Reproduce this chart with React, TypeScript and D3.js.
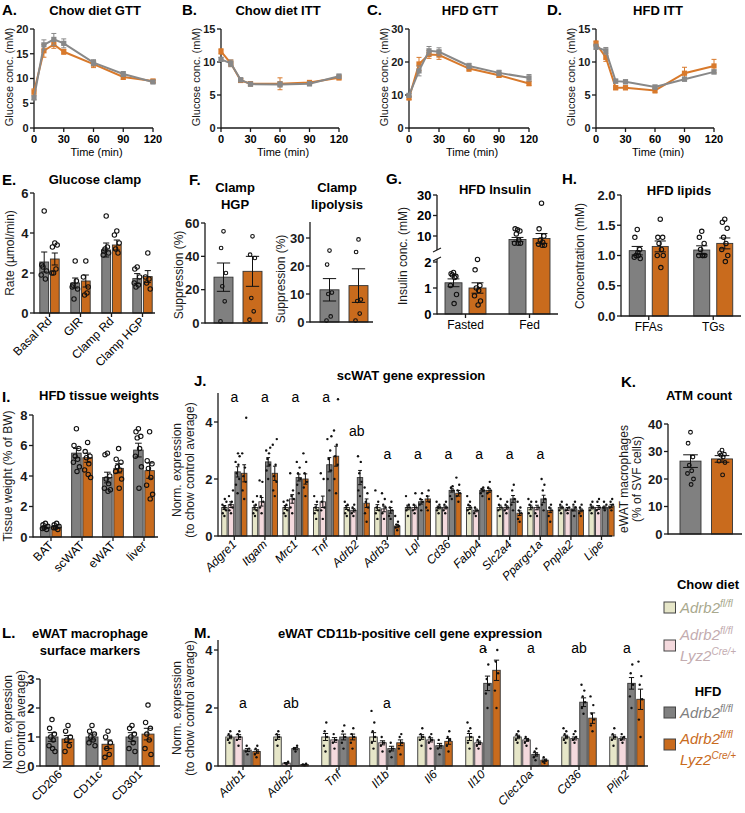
import React from 'react';
import * as d3 from 'd3';

const F = "'Liberation Sans', Arial, Helvetica, sans-serif";
const C_GRAY = '#808080';
const C_ORANGE = '#c96b1d';
const C_CHOW = '#e6e6c8';
const C_CHOWKO = '#f4d9dd';
const C_LGRAY = '#888888';
const C_LORANGE = '#d8792b';
const INK = '#1a1a1a';

// ---------- A-D time courses ----------
const times = [0, 10, 20, 30, 60, 90, 120];
const timeTicks = [0, 30, 60, 90, 120];
const aGray = [6.1, 16.8, 17.9, 17.1, 13.2, 10.9, 9.3];
const aGrayErr = [0.4, 1.0, 1.2, 0.9, 0.6, 0.5, 0.3];
const aOrange = [7.3, 15.6, 16.9, 15.4, 12.9, 10.3, 9.5];
const aOrangeErr = [0.6, 1.3, 0.8, 0.5, 0.7, 0.5, 0.3];
const bGray = [10.4, 9.8, 7.3, 6.65, 6.6, 6.7, 7.85];
const bGrayErr = [0.3, 0.5, 0.3, 0.3, 0.4, 0.3, 0.3];
const bOrange = [11.6, 9.8, 7.2, 6.7, 6.7, 6.9, 7.6];
const bOrangeErr = [0.4, 0.5, 0.3, 0.3, 0.9, 0.3, 0.3];
const cGray = [9.9, 17.3, 23.4, 23.1, 18.8, 16.7, 15.2];
const cGrayErr = [0.5, 1.5, 1.3, 1.2, 0.8, 0.8, 1.0];
const cOrange = [9.1, 19.4, 22.3, 22.1, 18.0, 16.0, 13.5];
const cOrangeErr = [0.5, 2.0, 1.2, 1.3, 0.8, 0.7, 0.7];
const dGray = [12.3, 11.7, 7.1, 7.0, 6.2, 7.4, 8.5];
const dGrayErr = [0.4, 0.5, 0.3, 0.3, 0.3, 0.3, 0.3];
const dOrange = [12.8, 10.7, 6.1, 6.1, 5.7, 8.3, 9.4];
const dOrangeErr = [0.4, 0.6, 0.3, 0.3, 0.4, 0.9, 1.0];

// ---------- E glucose clamp ----------
const eCats = ['Basal Rd', 'GIR', 'Clamp Rd', 'Clamp HGP'];
const eGray = [2.55, 1.5, 3.15, 1.72];
const eGrayErr = [0.5, 0.25, 0.35, 0.25];
const eOrange = [2.7, 1.6, 3.4, 1.82];
const eOrangeErr = [0.3, 0.3, 0.25, 0.3];
const eGrayDots = [[5.1, 2.4, 2.1, 2.3, 1.7, 1.9], [2.6, 1.4, 1.2, 0.7, 1.6, 1.3], [4.85, 3.1, 3.0, 3.2, 3.3, 2.9], [2.3, 2.2, 1.8, 1.3, 1.4, 1.5]];
const eOrangeDots = [[3.5, 3.3, 3.4, 2.0, 2.2, 2.0], [2.6, 1.8, 1.3, 0.9, 1.0], [4.1, 3.9, 3.5, 3.2, 3.0], [3.0, 1.8, 1.2, 1.5, 1.7]];

// ---------- F suppression ----------
const fHgp = [27.5, 31];
const fHgpErr = [8.5, 9];
const fHgpDots = [[55, 45, 30, 22, 13, 1], [52, 41, 39, 15, 7, 2]];
const fLip = [11.5, 13];
const fLipErr = [4, 6];
const fLipDots = [[25.5, 20.5, 10.5, 10, 2, 0.5], [29.5, 25, 8, 7.5, 3, 0.5]];

// ---------- G insulin ----------
const gCats = ['Fasted', 'Fed'];
const gGray = [1.2, 8.3];
const gGrayErr = [0.15, 1.0];
const gOrange = [1.0, 8.8];
const gOrangeErr = [0.2, 2.4];
const gGrayDots = [[1.6, 1.55, 1.45, 1.5, 1.4, 1.1, 0.75, 0.4], [13, 13.5, 12.5, 11, 8, 6.5, 6.5, 6.5]];
const gOrangeDots = [[2.1, 1.7, 1.1, 1.0, 0.9, 0.7, 0.5, 0.35], [26, 13.5, 10, 8, 7, 6, 5.5, 5.5]];

// ---------- H lipids ----------
const hCats = ['FFAs', 'TGs'];
const hGray = [1.08, 1.09];
const hGrayErr = [0.07, 0.07];
const hOrange = [1.15, 1.2];
const hOrangeErr = [0.09, 0.09];
const hGrayDots = [[1.43, 1.3, 1.1, 1.0, 1.0, 0.97, 0.95, 1.05], [1.4, 1.3, 1.2, 1.1, 1.0, 1.0, 1.0, 1.0]];
const hOrangeDots = [[1.6, 1.3, 1.3, 1.2, 1.1, 1.0, 1.0, 0.8], [1.6, 1.55, 1.45, 1.3, 1.2, 1.1, 1.0, 0.9]];

// ---------- I tissue weights ----------
const iCats = ['BAT', 'scWAT', 'eWAT', 'liver'];
const iGray = [0.65, 5.5, 3.9, 5.7];
const iGrayErr = [0.08, 0.3, 0.35, 0.45];
const iOrange = [0.65, 5.2, 4.5, 4.35];
const iOrangeErr = [0.08, 0.3, 0.3, 0.5];
const iGrayDots = [[0.9, 0.8, 0.7, 0.6, 0.5, 0.55], [7.1, 6.0, 5.8, 5.3, 5.1, 4.9, 4.6, 4.3], [5.5, 5.4, 4.0, 3.8, 3.5, 3.2, 3.1, 3.0], [7.1, 6.9, 6.6, 6.5, 5.8, 5.3, 4.6, 3.2]];
const iOrangeDots = [[0.9, 0.8, 0.7, 0.6, 0.5, 0.6], [6.2, 5.6, 5.3, 5.2, 4.8, 4.4, 3.9, 4.1], [5.8, 5.1, 4.9, 4.6, 4.4, 4.3, 3.8, 3.2], [6.9, 5.0, 4.8, 4.5, 3.9, 3.4, 2.8, 2.5]];

// ---------- J scWAT gene expression ----------
const jGenes = ['Adgre1', 'Itgam', 'Mrc1', 'Tnf', 'Adrb2', 'Adrb3', 'Lpl', 'Cd36', 'Fabp4', 'Slc2a4', 'Ppargc1a', 'Pnpla2', 'Lipe'];
const jChow = [1.0, 1.0, 1.0, 1.0, 1.0, 1.0, 1.0, 1.0, 1.0, 1.0, 1.0, 1.0, 1.0];
const jChowKO = [1.1, 1.2, 1.3, 1.2, 0.9, 0.95, 1.0, 1.0, 0.9, 1.0, 1.0, 0.95, 1.0];
const jHfd = [2.25, 2.6, 2.05, 2.5, 2.05, 0.9, 1.2, 1.6, 1.6, 1.3, 1.3, 0.95, 1.0];
const jHfdKO = [2.2, 2.2, 2.0, 2.8, 1.15, 0.35, 1.3, 1.5, 1.6, 0.8, 0.9, 0.9, 1.05];
const jChowErr = [0.07, 0.08, 0.07, 0.1, 0.07, 0.1, 0.08, 0.05, 0.07, 0.08, 0.08, 0.05, 0.05];
const jChowKOErr = [0.1, 0.15, 0.15, 0.2, 0.06, 0.1, 0.08, 0.05, 0.05, 0.06, 0.08, 0.05, 0.07];
const jHfdErr = [0.18, 0.15, 0.12, 0.25, 0.25, 0.1, 0.08, 0.06, 0.05, 0.12, 0.13, 0.07, 0.05];
const jHfdKOErr = [0.3, 0.25, 0.18, 0.35, 0.15, 0.06, 0.1, 0.1, 0.07, 0.08, 0.08, 0.05, 0.06];
const jChowDots = [[0.7, 0.8, 0.9, 1.0, 1.0, 1.1, 1.2, 1.3], [0.7, 0.8, 0.9, 1.0, 1.1, 1.2, 1.4], [0.7, 0.8, 0.9, 1.0, 1.1, 1.2, 1.25], [0.6, 0.8, 0.9, 1.0, 1.2, 1.4], [0.7, 0.8, 0.9, 1.0, 1.1, 1.2], [0.6, 0.8, 0.9, 1.0, 1.2, 1.6], [0.7, 0.9, 1.0, 1.0, 1.1, 1.4], [0.8, 0.9, 1.0, 1.0, 1.1, 1.2], [0.8, 0.9, 1.0, 1.1, 1.2, 1.4], [0.7, 0.9, 1.0, 1.1, 1.3, 1.4], [0.7, 0.8, 1.0, 1.1, 1.2, 1.3], [0.8, 0.9, 1.0, 1.1, 1.2], [0.8, 0.9, 1.0, 1.1, 1.2]];
const jChowKODots = [[0.8, 0.9, 1.0, 1.1, 1.2, 1.4, 1.6], [0.8, 1.0, 1.2, 1.4, 1.9, 1.95], [0.8, 1.0, 1.3, 1.4, 1.6, 2.2], [0.6, 0.9, 1.0, 1.2, 2.0, 2.2], [0.7, 0.8, 0.9, 1.0, 1.1], [0.6, 0.8, 1.0, 1.1, 1.3, 1.5], [0.8, 0.9, 1.0, 1.1, 1.5], [0.8, 0.9, 1.0, 1.1, 1.2], [0.7, 0.8, 0.9, 1.0], [0.8, 0.9, 1.0, 1.1, 1.2], [0.7, 0.8, 1.0, 1.2], [0.8, 0.9, 1.0, 1.1], [0.8, 0.9, 1.0, 1.2, 1.3]];
const jHfdDots = [[1.5, 1.8, 2.0, 2.2, 2.5, 2.6, 2.8, 2.9], [2.0, 2.3, 2.5, 2.7, 2.9, 3.0, 3.1], [1.5, 1.8, 2.0, 2.2, 2.4, 2.6], [1.6, 2.0, 2.3, 2.7, 3.0, 3.4, 3.5], [1.4, 1.6, 1.9, 2.2, 2.6, 2.8], [0.6, 0.7, 0.9, 1.0, 1.2], [0.9, 1.1, 1.2, 1.3, 1.5], [1.3, 1.4, 1.6, 1.7, 1.75], [1.4, 1.5, 1.6, 1.65, 1.7], [0.9, 1.1, 1.3, 1.6, 1.8], [0.9, 1.1, 1.3, 1.6, 1.8, 2.0], [0.7, 0.9, 1.0, 1.1, 1.2], [0.9, 1.0, 1.1, 1.2]];
const jHfdKODots = [[1.3, 1.6, 1.9, 2.1, 2.4, 2.9, 4.15], [1.4, 1.6, 1.9, 2.1, 2.5, 3.2, 3.4], [1.4, 1.7, 1.9, 2.2, 2.6, 2.9], [1.5, 2.0, 2.5, 2.8, 3.2, 3.7, 4.8], [0.5, 0.8, 1.0, 1.2, 1.5, 1.7], [0.2, 0.3, 0.35, 0.4, 0.5, 0.7], [0.9, 1.0, 1.2, 1.4, 1.6], [1.2, 1.4, 1.5, 1.6, 1.8, 2.05], [1.3, 1.5, 1.6, 1.7, 1.9], [0.5, 0.6, 0.8, 0.9, 1.0, 1.2], [0.5, 0.7, 0.9, 1.0, 1.1], [0.7, 0.8, 0.9, 1.0, 1.1], [0.9, 1.0, 1.1, 1.2, 1.3]];
const jLetters = ['a', 'a', 'a', 'a', 'ab', 'a', 'a', 'a', 'a', 'a', 'a', '', ''];
const jLetterY = [4.7, 4.7, 4.7, 4.7, 3.5, 2.7, 2.7, 2.7, 2.7, 2.7, 2.7, 0, 0];

// ---------- K ATM count ----------
const kVals = [26.5, 27.3];
const kErr = [2.3, 1.2];
const kDots = [[37, 33, 28, 25, 23, 22, 20, 18], [30.5, 29.5, 29, 28.7, 28, 26.5, 26, 21.5]];

// ---------- L surface markers ----------
const lCats = ['CD206', 'CD11c', 'CD301'];
const lGray = [1.0, 1.0, 1.0];
const lGrayErr = [0.15, 0.1, 0.15];
const lOrange = [0.93, 0.75, 1.1];
const lOrangeErr = [0.12, 0.15, 0.2];
const lGrayDots = [[1.6, 1.3, 1.1, 1.0, 0.9, 0.7, 0.5, 0.6], [1.4, 1.2, 1.1, 1.0, 0.9, 0.8, 0.7], [1.4, 1.3, 1.1, 1.0, 0.8, 0.6, 0.5]];
const lOrangeDots = [[1.4, 1.2, 1.0, 0.9, 0.7, 0.5], [1.2, 1.0, 0.8, 0.6, 0.4, 0.3], [2.1, 1.5, 1.3, 1.1, 0.9, 0.6, 0.4]];

// ---------- M CD11b+ gene expression ----------
const mGenes = ['Adrb1', 'Adrb2', 'Tnf', 'Il1b', 'Il6', 'Il10', 'Clec10a', 'Cd36', 'Plin2'];
const mChow = [1.0, 1.0, 1.0, 1.0, 1.0, 1.0, 1.0, 1.0, 1.0];
const mChowKO = [1.0, 0.1, 0.9, 0.8, 0.9, 0.8, 0.9, 0.95, 0.95];
const mHfd = [0.55, 0.6, 1.0, 0.6, 0.7, 2.85, 0.4, 2.2, 2.85];
const mHfdKO = [0.5, 0.05, 1.0, 0.8, 0.85, 3.3, 0.2, 1.65, 2.3];
const mChowErr = [0.06, 0.08, 0.12, 0.15, 0.08, 0.12, 0.06, 0.06, 0.07];
const mChowKOErr = [0.08, 0.02, 0.08, 0.07, 0.07, 0.06, 0.05, 0.05, 0.05];
const mHfdErr = [0.05, 0.04, 0.1, 0.08, 0.08, 0.25, 0.06, 0.15, 0.2];
const mHfdKOErr = [0.06, 0.01, 0.1, 0.1, 0.1, 0.35, 0.04, 0.18, 0.35];
const mChowDots = [[0.8, 0.9, 1.0, 1.1, 1.2], [0.7, 0.9, 1.0, 1.1, 1.2], [0.5, 0.7, 1.0, 1.2, 1.5], [0.6, 0.8, 1.0, 1.2, 1.5, 1.9], [0.7, 0.9, 1.0, 1.1, 1.3], [0.6, 0.8, 1.0, 1.2, 1.3, 1.5], [0.8, 0.9, 1.0, 1.1, 1.2], [0.8, 0.9, 1.0, 1.1, 1.2, 1.3], [0.7, 0.9, 1.0, 1.1, 1.3]];
const mChowKODots = [[0.7, 0.9, 1.0, 1.1, 1.2], [0.05, 0.1, 0.15], [0.6, 0.8, 0.9, 1.1], [0.5, 0.7, 0.8, 1.0], [0.6, 0.8, 0.9, 1.0, 1.1], [0.6, 0.7, 0.8, 0.9, 1.0], [0.7, 0.8, 0.9, 1.0], [0.8, 0.9, 1.0, 1.1, 1.2], [0.8, 0.9, 1.0, 1.1]];
const mHfdDots = [[0.4, 0.5, 0.6, 0.7], [0.5, 0.6, 0.7], [0.6, 0.8, 1.0, 1.2, 1.4], [0.3, 0.5, 0.6, 0.8], [0.4, 0.6, 0.7, 0.9], [2.0, 2.5, 2.8, 3.0, 3.5, 4.0], [0.2, 0.3, 0.4, 0.5, 0.6], [1.8, 2.0, 2.2, 2.4, 2.6, 2.8], [2.0, 2.4, 2.8, 3.2, 3.5]];
const mHfdKODots = [[0.3, 0.4, 0.5, 0.6, 0.7], [0.02, 0.05, 0.08], [0.6, 0.8, 1.0, 1.1, 1.3], [0.4, 0.6, 0.8, 1.0, 1.1], [0.5, 0.7, 0.9, 1.0, 1.2], [2.0, 2.6, 3.2, 3.6, 4.0, 4.5], [0.1, 0.15, 0.2, 0.3], [1.2, 1.4, 1.6, 1.8, 2.1, 2.4], [1.0, 1.6, 2.3, 2.8, 3.1, 3.6]];
const mLetters = ['a', 'ab', '', 'a', '', 'a', 'a', 'ab', 'a'];
const mLetterY = [2.0, 2.0, 0, 2.0, 0, 3.9, 3.9, 3.9, 3.9];

const jitter = [0, -2.4, 2.4, -1.2, 1.2, -3, 3, 0.6];
const jitterSmall = [0, -1.6, 1.6, -0.8, 0.8, -2, 2, 0.4];

function YAxis({ x, y, ticks, top, fs = 12, fmt }: any) {
  const r0 = y.range()[0];
  const yt = top !== undefined ? top : y.range()[1];
  return (
    <g>
      <line x1={x} x2={x} y1={r0 + 0.6} y2={yt} stroke={INK} strokeWidth={1.3} />
      {ticks.map((t: number) => (
        <g key={t}>
          <line x1={x - 4} x2={x} y1={y(t)} y2={y(t)} stroke={INK} strokeWidth={1.3} />
          <text x={x - 5.5} y={y(t)} dy="0.36em" textAnchor="end" fontWeight="bold" fontSize={fs} fontFamily={F} fill={INK}>{fmt ? fmt(t) : t}</text>
        </g>
      ))}
    </g>
  );
}

function YLabel({ x, y, lines, fs = 12 }: any) {
  return (
    <text transform={`translate(${x},${y}) rotate(-90)`} textAnchor="middle" fontSize={fs} fontFamily={F} fill={INK}>
      {lines.map((l: string, i: number) => (
        <tspan key={i} x={0} dy={i === 0 ? 0 : fs * 1.05}>{l}</tspan>
      ))}
    </text>
  );
}

function LinePanel({ lab, labX, title, titleX, x0, x1, yMax, yStep, g, ge, o, oe }: any) {
  const x = d3.scaleLinear().domain([0, 120]).range([x0, x1]);
  const y = d3.scaleLinear().domain([0, yMax]).range([128, 29]);
  const ticks = d3.range(0, yMax + 0.01, yStep);
  const line = d3.line<number>().x((_, i) => x(times[i])).y((d) => y(d));
  const series = [
    { v: o, e: oe, c: C_LORANGE },
    { v: g, e: ge, c: C_LGRAY },
  ];
  return (
    <g>
      <text x={labX} y={15} fontSize={15} fontWeight="bold" fontFamily={F}>{lab}</text>
      <text x={titleX} y={15} textAnchor="middle" fontSize={13} fontWeight="bold" fontFamily={F}>{title}</text>
      <YAxis x={x0} y={y} ticks={ticks} fs={11} />
      <line x1={x0} x2={x1} y1={128} y2={128} stroke={INK} strokeWidth={1.3} />
      {timeTicks.map((t) => (
        <g key={t}>
          <line x1={x(t)} x2={x(t)} y1={128} y2={132} stroke={INK} strokeWidth={1.3} />
          <text x={x(t)} y={143} textAnchor="middle" fontSize={11} fontWeight="bold" fontFamily={F}>{t}</text>
        </g>
      ))}
      <text x={(x0 + x1) / 2 + 3} y={156} textAnchor="middle" fontSize={11} fontFamily={F}>Time (min)</text>
      <YLabel x={x0 - 21} y={77} lines={['Glucose conc. (mM)']} fs={11} />
      {series.map((s, si) => (
        <g key={si}>
          {s.v.map((v: number, i: number) => (
            <g key={i} stroke={s.c} strokeWidth={1}>
              <line x1={x(times[i])} x2={x(times[i])} y1={y(v - s.e[i])} y2={y(v + s.e[i])} />
              <line x1={x(times[i]) - 2.5} x2={x(times[i]) + 2.5} y1={y(v + s.e[i])} y2={y(v + s.e[i])} />
              <line x1={x(times[i]) - 2.5} x2={x(times[i]) + 2.5} y1={y(v - s.e[i])} y2={y(v - s.e[i])} />
            </g>
          ))}
          <path d={line(s.v) || ''} fill="none" stroke={s.c} strokeWidth={2} />
          {s.v.map((v: number, i: number) => (
            <rect key={i} x={x(times[i]) - 2.6} y={y(v) - 2.6} width={5.2} height={5.2} fill={s.c} />
          ))}
        </g>
      ))}
    </g>
  );
}

// generic bar with error and dots
function Bar({ cx, w, y, v, e, fill, dots, r = 2.3, filledDots = false, dotJit = jitter, capW }: any) {
  const y0 = y(0);
  const yv = y(v);
  const cw = capW !== undefined ? capW : w * 0.35;
  return (
    <g>
      <rect x={cx - w / 2} y={yv} width={w} height={y0 - yv} fill={fill} stroke="#333" strokeWidth={0.9} />
      {dots && dots.map((d: number, i: number) => (
        filledDots
          ? <circle key={i} cx={cx + dotJit[i % dotJit.length]} cy={y(d)} r={r} fill="#111" />
          : <circle key={i} cx={cx + dotJit[i % dotJit.length]} cy={y(d)} r={r} fill="none" stroke="#111" strokeWidth={1.1} />
      ))}
      <g stroke="#111" strokeWidth={1}>
        <line x1={cx} x2={cx} y1={y(v - e)} y2={y(v + e)} />
        <line x1={cx - cw} x2={cx + cw} y1={y(v + e)} y2={y(v + e)} />
        <line x1={cx - cw} x2={cx + cw} y1={y(v - e)} y2={y(v - e)} />
      </g>
    </g>
  );
}

function XAxisCats({ x0, x1, y0, cats, band, rotate, fs = 12, italic = false }: any) {
  return (
    <g>
      <line x1={x0} x2={x1} y1={y0} y2={y0} stroke={INK} strokeWidth={1.3} />
      {cats.map((c: string) => {
        const cx = band(c)! + band.bandwidth() / 2;
        return (
          <g key={c}>
            <line x1={cx} x2={cx} y1={y0} y2={y0 + 4} stroke={INK} strokeWidth={1.3} />
            {rotate ? (
              <text transform={`translate(${cx + 3},${y0 + 9}) rotate(-45)`} textAnchor="end" fontSize={fs} fontFamily={F} fontStyle={italic ? 'italic' : 'normal'}>{c}</text>
            ) : (
              <text x={cx} y={y0 + 15} textAnchor="middle" fontSize={fs} fontFamily={F}>{c}</text>
            )}
          </g>
        );
      })}
    </g>
  );
}

function TwoSeriesPanel({ cats, band, y, gray, grayErr, orange, orangeErr, grayDots, orangeDots, w, off, r }: any) {
  return (
    <g>
      {cats.map((c: string, i: number) => {
        const cx = band(c)! + band.bandwidth() / 2;
        return (
          <g key={c}>
            <Bar cx={cx - off} w={w} y={y} v={gray[i]} e={grayErr[i]} fill={C_GRAY} dots={grayDots[i]} r={r} />
            <Bar cx={cx + off} w={w} y={y} v={orange[i]} e={orangeErr[i]} fill={C_ORANGE} dots={orangeDots[i]} r={r} />
          </g>
        );
      })}
    </g>
  );
}

function FourSeriesPanel({ genes, band, y, series, w, step, r, letters, letterY, fs }: any) {
  const fills = [C_CHOW, C_CHOWKO, C_GRAY, C_ORANGE];
  return (
    <g>
      {genes.map((gname: string, gi: number) => {
        const c = band(gname)! + band.bandwidth() / 2;
        return (
          <g key={gname}>
            {series.map((s: any, si: number) => (
              <Bar key={si} cx={c + (si - 1.5) * step} w={w} y={y} v={s.v[gi]} e={s.e[gi]} fill={fills[si]} dots={s.d[gi]} r={r} filledDots dotJit={jitterSmall} capW={w * 0.35} />
            ))}
            {letters[gi] && (
              <text x={c} y={y(letterY[gi])} textAnchor="middle" fontSize={fs} fontFamily={F}>{letters[gi]}</text>
            )}
          </g>
        );
      })}
    </g>
  );
}

function Legend() {
  const sup = (main: string, s: string, x: number, y: number, color: string) => (
    <text x={x} y={y} fontSize={15} fontStyle="italic" fontFamily={F} fill={color}>
      {main}<tspan fontSize={10} dy={-6}>{s}</tspan>
    </text>
  );
  return (
    <g>
      <text x={708} y={589} textAnchor="middle" fontSize={13} fontWeight="bold" fontFamily={F}>Chow diet</text>
      <rect x={664} y={602} width={11.5} height={11} fill={C_CHOW} stroke="#444" strokeWidth={1} />
      {sup('Adrb2', 'fl/fl', 680, 613, '#a9a98e')}
      <rect x={664} y={640} width={11.5} height={11} fill={C_CHOWKO} stroke="#444" strokeWidth={1} />
      {sup('Adrb2', 'fl/fl', 680, 640, '#c3acb0')}
      {sup('Lyz2', 'Cre/+', 680, 661, '#c3acb0')}
      <text x={708} y={696} textAnchor="middle" fontSize={13} fontWeight="bold" fontFamily={F}>HFD</text>
      <rect x={664} y={707} width={11.5} height={11} fill={C_GRAY} stroke="#444" strokeWidth={1} />
      {sup('Adrb2', 'fl/fl', 680, 718, '#7f7f7f')}
      <rect x={664} y={739} width={11.5} height={11} fill={C_ORANGE} stroke="#444" strokeWidth={1} />
      {sup('Adrb2', 'fl/fl', 680, 744, C_ORANGE)}
      {sup('Lyz2', 'Cre/+', 680, 765, C_ORANGE)}
    </g>
  );
}

export default function App() {
  // E
  const eY = d3.scaleLinear().domain([0, 6]).range([313, 193]);
  const eBand = d3.scaleBand().domain(eCats).range([34, 158]);
  // F
  const f1Y = d3.scaleLinear().domain([0, 60]).range([323, 223]);
  const f2Y = d3.scaleLinear().domain([0, 30]).range([322, 238]);
  // G broken axis
  const gLow = d3.scaleLinear().domain([0, 2]).range([314, 262]);
  const gHigh = d3.scaleLinear().domain([10, 30]).range([236, 195]);
  const gY: any = (v: number) => (v <= 2.2 ? gLow(v) : gHigh(Math.max(v, 3.3)));
  gY.range = () => [314, 195];
  const gBand = d3.scaleBand().domain(gCats).range([433.5, 561.5]);
  // H
  const hY = d3.scaleLinear().domain([0, 2]).range([316, 195]);
  const hBand = d3.scaleBand().domain(hCats).range([616.5, 745.5]);
  // I
  const iY = d3.scaleLinear().domain([0, 8]).range([537, 415]);
  const iBand = d3.scaleBand().domain(iCats).range([35.5, 159.5]);
  // J
  const jY = d3.scaleLinear().domain([0, 4]).range([536, 422]);
  const jBand = d3.scaleBand().domain(jGenes).range([219, 616.8]);
  // K
  const kY = d3.scaleLinear().domain([0, 40]).range([534, 424]);
  // L
  const lY = d3.scaleLinear().domain([0, 3]).range([766, 679]);
  const lBand = d3.scaleBand().domain(lCats).range([40, 160]);
  // M
  const mY = d3.scaleLinear().domain([0, 4]).range([766, 650]);
  const mBand = d3.scaleBand().domain(mGenes).range([219, 651]);

  const gCx = (c: string) => gBand(c)! + gBand.bandwidth() / 2;

  return (
    <svg width={745} height={813} style={{ position: 'absolute', left: 0, top: 0, background: '#fff' }} fontFamily={F}>
      <rect x={0} y={0} width={745} height={813} fill="#fff" />
      {/* Row 1 */}
      <LinePanel lab="A." labX={2} title="Chow diet GTT" titleX={95} x0={34} x1={153} yMax={20} yStep={5} g={aGray} ge={aGrayErr} o={aOrange} oe={aOrangeErr} />
      <LinePanel lab="B." labX={182} title="Chow diet ITT" titleX={278} x0={221} x1={339} yMax={15} yStep={5} g={bGray} ge={bGrayErr} o={bOrange} oe={bOrangeErr} />
      <LinePanel lab="C." labX={367} title="HFD GTT" titleX={470} x0={409} x1={529} yMax={30} yStep={10} g={cGray} ge={cGrayErr} o={cOrange} oe={cOrangeErr} />
      <LinePanel lab="D." labX={547} title="HFD ITT" titleX={658} x0={596} x1={714} yMax={15} yStep={5} g={dGray} ge={dGrayErr} o={dOrange} oe={dOrangeErr} />

      {/* E */}
      <text x={2} y={185} fontSize={15} fontWeight="bold">E.</text>
      <text x={95} y={184} textAnchor="middle" fontSize={13} fontWeight="bold">Glucose clamp</text>
      <YAxis x={34} y={eY} ticks={[0, 2, 4, 6]} fs={13} />
      <YLabel x={14} y={253} lines={['Rate (µmol/min)']} fs={12} />
      <TwoSeriesPanel cats={eCats} band={eBand} y={eY} gray={eGray} grayErr={eGrayErr} orange={eOrange} orangeErr={eOrangeErr} grayDots={eGrayDots} orangeDots={eOrangeDots} w={8.8} off={5.3} r={2.2} />
      <XAxisCats x0={34} x1={155} y0={313} cats={eCats} band={eBand} rotate fs={12} />

      {/* F */}
      <text x={189} y={185} fontSize={15} fontWeight="bold">F.</text>
      <text x={235} y={192} textAnchor="middle" fontSize={13} fontWeight="bold">Clamp</text>
      <text x={235} y={209} textAnchor="middle" fontSize={13} fontWeight="bold">HGP</text>
      <YAxis x={205} y={f1Y} ticks={[0, 20, 40, 60]} fs={13} />
      <YLabel x={183} y={275} lines={['Suppression (%)']} fs={12} />
      <Bar cx={223.5} w={19} y={f1Y} v={fHgp[0]} e={fHgpErr[0]} fill={C_GRAY} dots={fHgpDots[0]} r={1.8} />
      <Bar cx={252.5} w={19} y={f1Y} v={fHgp[1]} e={fHgpErr[1]} fill={C_ORANGE} dots={fHgpDots[1]} r={1.8} />
      <line x1={205} x2={268} y1={323} y2={323} stroke={INK} strokeWidth={1.3} />

      <text x={337} y={192} textAnchor="middle" fontSize={13} fontWeight="bold">Clamp</text>
      <text x={337} y={209} textAnchor="middle" fontSize={13} fontWeight="bold">lipolysis</text>
      <YAxis x={310} y={f2Y} ticks={[0, 10, 20, 30]} top={222} fs={13} />
      <YLabel x={285} y={279} lines={['Suppression (%)']} fs={12} />
      <Bar cx={329.5} w={19} y={f2Y} v={fLip[0]} e={fLipErr[0]} fill={C_GRAY} dots={fLipDots[0]} r={1.8} />
      <Bar cx={358.5} w={19} y={f2Y} v={fLip[1]} e={fLipErr[1]} fill={C_ORANGE} dots={fLipDots[1]} r={1.8} />
      <line x1={310} x2={373} y1={322} y2={322} stroke={INK} strokeWidth={1.3} />

      {/* G */}
      <text x={386} y={184} fontSize={15} fontWeight="bold">G.</text>
      <text x={495} y={194} textAnchor="middle" fontSize={13} fontWeight="bold">HFD Insulin</text>
      <g>
        <line x1={437} x2={437} y1={314.6} y2={259} stroke={INK} strokeWidth={1.3} />
        <line x1={437} x2={437} y1={250} y2={195} stroke={INK} strokeWidth={1.3} />
        <line x1={433} x2={441} y1={261} y2={257} stroke={INK} strokeWidth={1.1} />
        <line x1={433} x2={441} y1={252} y2={248} stroke={INK} strokeWidth={1.1} />
        {[0, 1, 2].map((t) => (
          <g key={'l' + t}>
            <line x1={433} x2={437} y1={gLow(t)} y2={gLow(t)} stroke={INK} strokeWidth={1.3} />
            <text x={431.5} y={gLow(t)} dy="0.36em" textAnchor="end" fontSize={13} fontWeight="bold">{t}</text>
          </g>
        ))}
        {[10, 20, 30].map((t) => (
          <g key={'h' + t}>
            <line x1={433} x2={437} y1={gHigh(t)} y2={gHigh(t)} stroke={INK} strokeWidth={1.3} />
            <text x={431.5} y={gHigh(t)} dy="0.36em" textAnchor="end" fontSize={13} fontWeight="bold">{t}</text>
          </g>
        ))}
      </g>
      <YLabel x={407} y={256} lines={['Insulin conc. (mM)']} fs={12} />
      {gCats.map((c, i) => (
        <g key={c}>
          <Bar cx={gCx(c) - 12} w={17} y={gY} v={gGray[i]} e={gGrayErr[i]} fill={C_GRAY} dots={gGrayDots[i]} r={2.2} />
          <Bar cx={gCx(c) + 12} w={17} y={gY} v={gOrange[i]} e={gOrangeErr[i]} fill={C_ORANGE} dots={gOrangeDots[i]} r={2.2} />
        </g>
      ))}
      <XAxisCats x0={437} x1={558} y0={314} cats={gCats} band={gBand} fs={12} />

      {/* H */}
      <text x={562} y={184} fontSize={15} fontWeight="bold">H.</text>
      <text x={679} y={195} textAnchor="middle" fontSize={13} fontWeight="bold">HFD lipids</text>
      <YAxis x={621} y={hY} ticks={[0, 0.5, 1, 1.5, 2]} fs={13} fmt={(t: number) => t.toFixed(1)} />
      <YLabel x={584} y={256} lines={['Concentration (mM)']} fs={12} />
      <TwoSeriesPanel cats={hCats} band={hBand} y={hY} gray={hGray} grayErr={hGrayErr} orange={hOrange} orangeErr={hOrangeErr} grayDots={hGrayDots} orangeDots={hOrangeDots} w={16} off={11.5} r={2.2} />
      <XAxisCats x0={621} x1={741} y0={316} cats={hCats} band={hBand} fs={12} />

      {/* I */}
      <text x={2} y={402} fontSize={15} fontWeight="bold">I.</text>
      <text x={99} y={400} textAnchor="middle" fontSize={13} fontWeight="bold">HFD tissue weights</text>
      <YAxis x={33} y={iY} ticks={[0, 2, 4, 6, 8]} fs={13} />
      <YLabel x={12} y={476} lines={['Tissue weight (% of BW)']} fs={12} />
      <TwoSeriesPanel cats={iCats} band={iBand} y={iY} gray={iGray} grayErr={iGrayErr} orange={iOrange} orangeErr={iOrangeErr} grayDots={iGrayDots} orangeDots={iOrangeDots} w={9.5} off={5.6} r={2.2} />
      <XAxisCats x0={33} x1={158} y0={537} cats={iCats} band={iBand} rotate fs={12} />

      {/* J */}
      <text x={194} y={386} fontSize={15} fontWeight="bold">J.</text>
      <text x={411} y={380} textAnchor="middle" fontSize={13} fontWeight="bold">scWAT gene expression</text>
      <YAxis x={218} y={jY} ticks={[0, 2, 4]} top={393} fs={13} />
      <YLabel x={181} y={470} lines={['Norm. expression', '(to chow control average)']} fs={12} />
      <FourSeriesPanel genes={jGenes} band={jBand} y={jY} w={5.4} step={6.6} r={1.2} fs={14}
        series={[{ v: jChow, e: jChowErr, d: jChowDots }, { v: jChowKO, e: jChowKOErr, d: jChowKODots }, { v: jHfd, e: jHfdErr, d: jHfdDots }, { v: jHfdKO, e: jHfdKOErr, d: jHfdKODots }]}
        letters={jLetters} letterY={jLetterY} />
      <XAxisCats x0={218} x1={612} y0={536} cats={jGenes} band={jBand} rotate italic fs={12} />

      {/* K */}
      <text x={621} y={387} fontSize={15} fontWeight="bold">K.</text>
      <text x={699} y={400} textAnchor="middle" fontSize={13} fontWeight="bold">ATM count</text>
      <YAxis x={668} y={kY} ticks={[0, 10, 20, 30, 40]} fs={13} />
      <YLabel x={628} y={479} lines={['eWAT macrophages', '(% of SVF cells)']} fs={12} />
      <Bar cx={690.5} w={21} y={kY} v={kVals[0]} e={kErr[0]} fill={C_GRAY} dots={kDots[0]} r={1.9} />
      <Bar cx={722} w={21} y={kY} v={kVals[1]} e={kErr[1]} fill={C_ORANGE} dots={kDots[1]} r={1.9} />
      <line x1={668} x2={742} y1={534} y2={534} stroke={INK} strokeWidth={1.3} />

      {/* L */}
      <text x={2} y={638} fontSize={15} fontWeight="bold">L.</text>
      <text x={90} y={638} textAnchor="middle" fontSize={13} fontWeight="bold">eWAT macrophage</text>
      <text x={90} y={655} textAnchor="middle" fontSize={13} fontWeight="bold">surface markers</text>
      <YAxis x={40} y={lY} ticks={[0, 1, 2, 3]} fs={13} />
      <YLabel x={12} y={722} lines={['Norm. expression', '(to control average)']} fs={12} />
      <TwoSeriesPanel cats={lCats} band={lBand} y={lY} gray={lGray} grayErr={lGrayErr} orange={lOrange} orangeErr={lOrangeErr} grayDots={lGrayDots} orangeDots={lOrangeDots} w={12} off={8} r={2.2} />
      <XAxisCats x0={40} x1={160} y0={766} cats={lCats} band={lBand} rotate fs={12} />

      {/* M */}
      <text x={194} y={638} fontSize={15} fontWeight="bold">M.</text>
      <text x={410} y={638} textAnchor="middle" fontSize={13} fontWeight="bold">eWAT CD11b-positive cell gene expression</text>
      <YAxis x={218} y={mY} ticks={[0, 2, 4]} top={640} fs={13} />
      <YLabel x={181} y={708} lines={['Norm. expression', '(to chow control average)']} fs={12} />
      <FourSeriesPanel genes={mGenes} band={mBand} y={mY} w={7.5} step={9} r={1.2} fs={14}
        series={[{ v: mChow, e: mChowErr, d: mChowDots }, { v: mChowKO, e: mChowKOErr, d: mChowKODots }, { v: mHfd, e: mHfdErr, d: mHfdDots }, { v: mHfdKO, e: mHfdKOErr, d: mHfdKODots }]}
        letters={mLetters} letterY={mLetterY} />
      <XAxisCats x0={218} x1={648} y0={766} cats={mGenes} band={mBand} rotate italic fs={12} />

      <Legend />
    </svg>
  );
}
